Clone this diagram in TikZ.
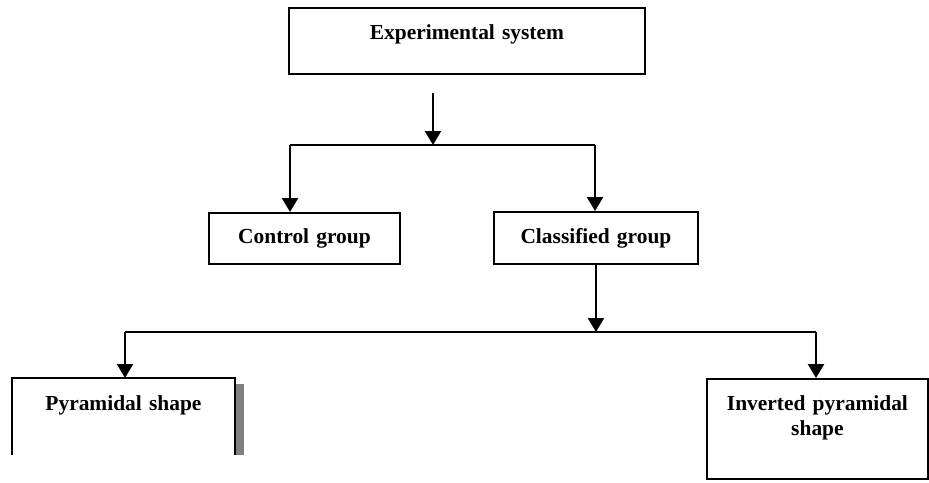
\documentclass[tikz,border=0pt]{standalone}
\usepackage{fontspec}
\setmainfont{Liberation Serif}
\usetikzlibrary{arrows.meta}

\begin{document}
\begin{tikzpicture}[x=0.02cm,y=-0.02cm]
      \useasboundingbox (0,0) rectangle (929,483);
      \tikzstyle{box}=[draw, line width=1.1pt, inner sep=0pt, align=center, anchor=north west,
        font=\fontsize{12.2}{14.2}\selectfont\bfseries]
      \tikzstyle{arr}=[-{Triangle[length=2.8mm,width=3.2mm]}, line width=1.4pt]
      \node [box, text width=7.12cm, text height=0.64cm, text depth=0.68cm] (sys) at (288,7) {Experimental system};
      \node [box, text width=3.82cm, text height=0.62cm, text depth=0.40cm] (ctrl) at (208,212) {Control group};
      \node [box, text width=4.08cm, text height=0.64cm, text depth=0.40cm] (cls) at (493,211) {Classified group};
      \node [box, draw=none, text width=4.42cm, text height=0.64cm, text depth=0.86cm] (pyr) at (12,378) {Pyramidal shape};
      \node [box, text width=4.42cm, text height=0.64cm, text depth=1.36cm] (inv) at (706,378) {Inverted pyramidal\\ shape};
      % open box with shadow
      \fill [gray] ([yshift=-0.12cm]pyr.north east) rectangle ([xshift=0.18cm]pyr.south east);
      \draw [line width=1.1pt] (pyr.south west) -- (pyr.north west) -- (pyr.north east) -- (pyr.south east);
      % first split
      \coordinate (s1) at (433,93);
      \coordinate (j1) at (433,145);
      \coordinate (jL) at (290,145);
      \coordinate (jR) at (595,145);
      \draw [arr] (s1) -- (j1);
      \draw [line width=1.1pt] (jL) -- (jR);
      \draw [arr] (jL) -- (jL |- ctrl.north);
      \draw [arr] (jR) -- (jR |- cls.north);
      % second split
      \coordinate (bL) at (125,332);
      \coordinate (bR) at (816,332);
      \draw [arr] (cls.south) -- (cls.south |- bL);
      \draw [line width=1.1pt] (bL) -- (bR);
      \draw [arr] (bL) -- (bL |- pyr.north);
      \draw [arr] (bR) -- (bR |- inv.north);
\end{tikzpicture}
\end{document}
